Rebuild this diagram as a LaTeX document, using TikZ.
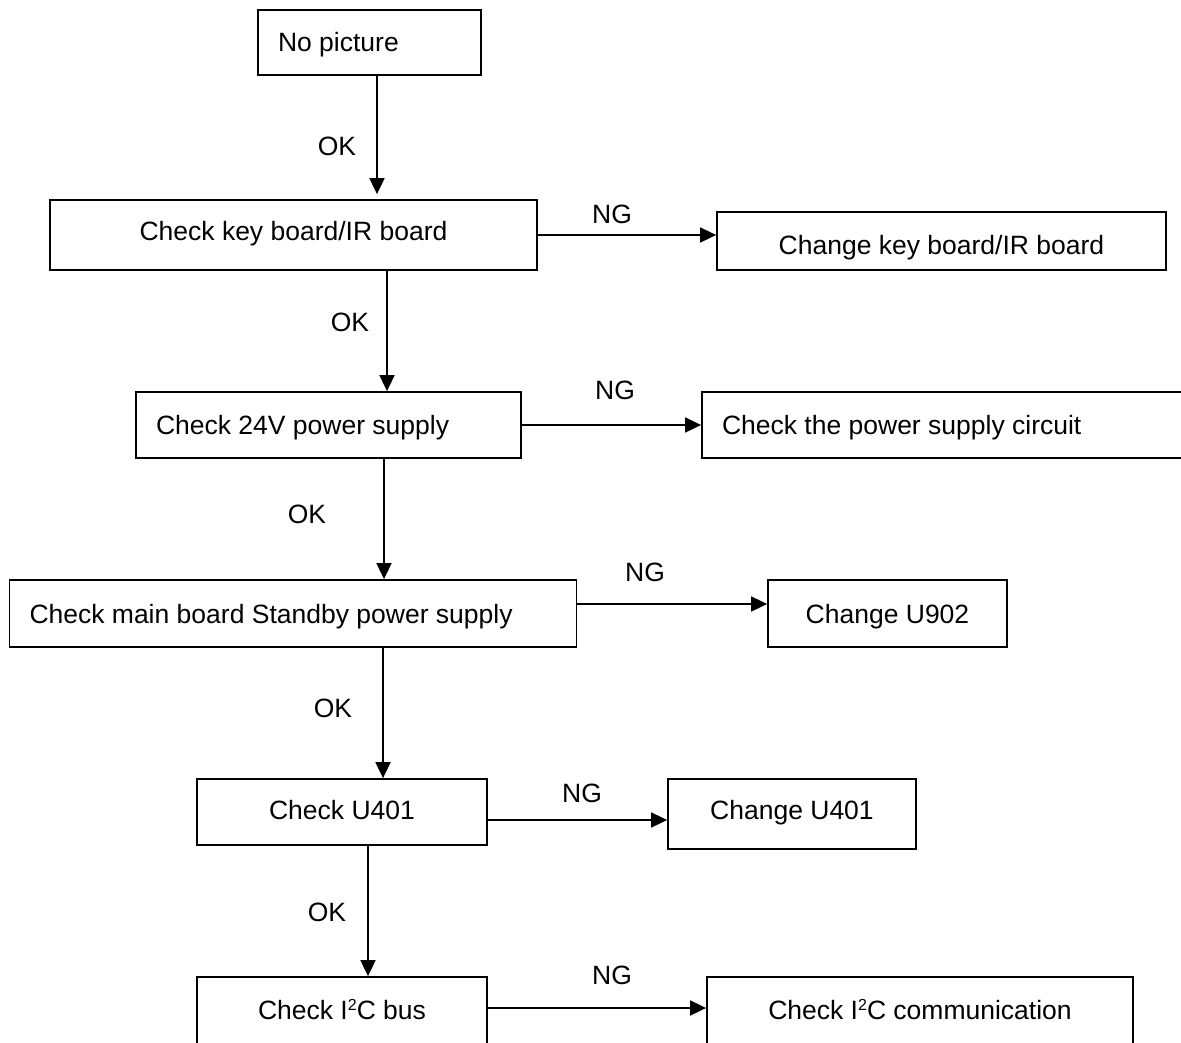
\documentclass[tikz,border=0pt]{standalone}
\usepackage{fontspec}
\setmainfont{Liberation Sans}
\usetikzlibrary{arrows.meta,positioning}

\newcommand{\sqr}{\raisebox{9pt}{\fontsize{16}{16}\selectfont 2}}

\begin{document}
\begin{tikzpicture}
[x=1pt, y=-1pt, line width=1.8pt, >={Triangle[length=16pt,width=15pt]},
font=\fontsize{26.5}{30}\selectfont,
step box/.style={rectangle, draw, inner sep=0pt, minimum height=66pt, text height=24.5pt, text depth=5.5pt},
left box/.style={step box, align=flush left, inner xsep=20pt},
tag/.style={inner sep=0pt}]

\clip (0,0) rectangle (1181,1043);

% main column
\node[left box, minimum height=65pt, text width=183pt] (nopic) at (369.5,42.5) {No picture};
\node[step box, minimum width=487pt, minimum height=70pt, text height=16.5pt] (keyb) at (293.5,235) {Check key board/IR board};
\node[left box, text width=345pt] (power) at (328.5,425) {Check 24V power supply};
\node[left box, minimum height=67pt, text width=527pt] (stby) at (293,613.5) {Check main board Standby power supply};
\node[step box, minimum width=290pt, text height=20.5pt] (udec) at (342,812) {Check U401};
\node[step box, minimum width=290pt, minimum height=72pt, text height=18.5pt] (ibus) at (342,1013) {Check I\sqr C bus};

% NG column
\node[step box, minimum width=449pt, minimum height=58pt, text height=32.5pt] (chkeyb) at (941.5,241) {Change key board/IR board};
\node[left box, text width=452pt] (circ) at (948,425) {Check the power supply circuit};
\node[step box, minimum width=239pt, minimum height=67pt] (chstby) at (887.5,613.5) {Change U902};
\node[step box, minimum width=248pt, minimum height=70pt, text height=16.5pt] (chudec) at (792,814) {Change U401};
\node[step box, minimum width=426pt, minimum height=72pt, text height=18.5pt] (icomm) at (920,1013) {Check I\sqr C communication};

% OK arrows
\draw[->, shorten >=5pt] ([xshift=7.5pt]nopic.south) -- ([xshift=83.5pt]keyb.north);
\draw[->] ([xshift=93.5pt]keyb.south) -- ([xshift=58.5pt]power.north);
\draw[->] ([xshift=55.5pt]power.south) -- ([xshift=91pt]stby.north);
\draw[->] ([xshift=90pt]stby.south) -- ([xshift=41pt]udec.north);
\draw[->] ([xshift=26pt]udec.south) -- ([xshift=26pt]ibus.north);

% NG arrows
\draw[->] (keyb.east) -- (keyb.east -| chkeyb.west);
\draw[->] (power.east) -- (circ.west);
\draw[->] ([yshift=9.5pt]stby.east) -- ([yshift=9.5pt]chstby.west);
\draw[->] ([yshift=-8pt]udec.east) -- ([yshift=-6pt]chudec.west);
\draw[->] ([yshift=5pt]ibus.east) -- ([yshift=5pt]icomm.west);

% labels
\node[tag] (ok1) at (337,146) {OK};
\node[tag] (ok2) at (350,322) {OK};
\node[tag] (ok3) at (307,514) {OK};
\node[tag] (ok4) at (333,708) {OK};
\node[tag] (ok5) at (327,912) {OK};
\node[tag] (ng1) at (612,214) {NG};
\node[tag] (ng2) at (615,390) {NG};
\node[tag] (ng3) at (645,572) {NG};
\node[tag] (ng4) at (582,793) {NG};
\node[tag] (ng5) at (612,975) {NG};
\end{tikzpicture}
\end{document}
